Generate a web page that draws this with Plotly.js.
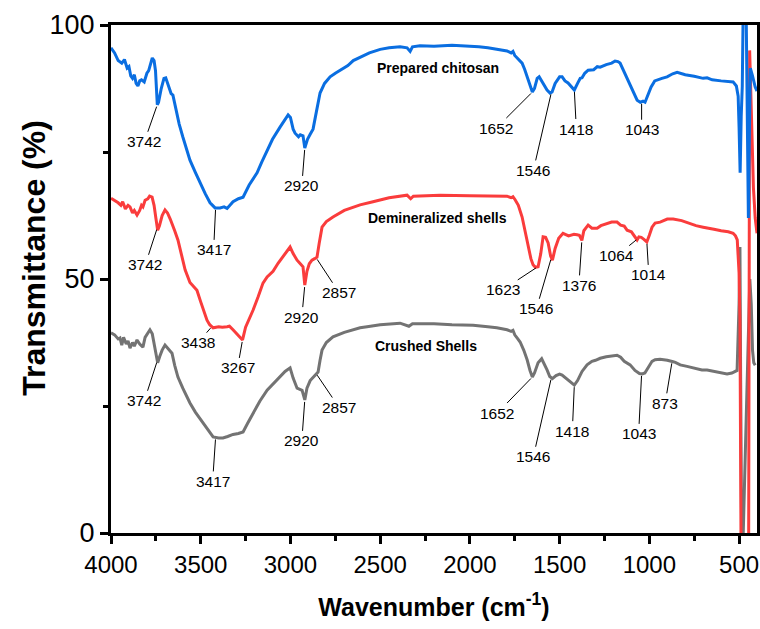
<!DOCTYPE html>
<html>
<head>
<meta charset="utf-8">
<script src="https://cdn.plot.ly/plotly-3.0.1.min.js"></script>
<style>html,body{margin:0;padding:0;background:#fff;}#chart{width:760px;height:629px;}</style>
</head>
<body>
<div id="chart"></div>
<script>
// ---------- DATA ----------
const chitosanWn = [4000,3980,3960,3940,3925,3910,3900,3890,3880,3870,3860,3850,3840,3830,3815,3800,3790,3780,3770,3760,3752,3742,3735,3720,3705,3695,3680,3665,3655,3645,3635,3620,3600,3580,3560,3530,3504,3475,3448,3420,3392,3370,3353,3335,3320,3290,3264,3230,3186,3160,3130,3100,3058,3030,3013,3000,2985,2974,2955,2945,2930,2920,2905,2890,2874,2855,2835,2810,2779,2750,2724,2680,2650,2612,2560,2500,2450,2389,2350,2333,2320,2278,2200,2100,2016,1950,1900,1850,1793,1770,1760,1750,1735,1720,1709,1695,1681,1665,1652,1640,1625,1614,1600,1586,1570,1553,1542,1525,1500,1486,1470,1453,1430,1418,1400,1385,1375,1360,1341,1310,1290,1274,1240,1210,1191,1175,1163,1150,1135,1110,1090,1068,1050,1035,1024,1010,990,970,957,930,901,870,845,800,750,700,678,650,600,560,533,515,505,500,494,488,482,478,472,462,455,448,442,437,425,410,400];
const chitosanT  = [95.5,94.5,93,92.5,93.2,91.5,91.8,90,89.5,90.2,88.5,88,89,89.2,88.8,90.5,91,92.5,93.5,93,91,84.3,84.8,87.5,89.5,89.6,88,86.5,86.2,84.5,83,80.5,78,75.5,73.4,71,68.9,66.8,65,64,64,64.2,63.9,64.5,65.2,65.8,66.1,68.5,70.9,73,75.4,77.5,79.9,81.5,82.3,81.8,79.5,78.7,78,78.4,78.2,75.8,77.5,78.5,79.5,83,86.6,88.5,89.8,90.5,91.1,92,93,93.7,94.5,95.2,95.5,95.7,95.5,94.8,95.7,95.9,95.8,96,95.9,95.7,95.5,95.2,94.9,94.5,94.8,94,93.5,93,92.5,91.3,89.8,88,86.8,87.5,89.5,89.8,89,88.2,87.2,86.6,86.8,88.5,89.8,89.8,89,88.6,87.8,87.2,88.5,89.5,89.6,90.5,91.1,91.2,91.8,91.7,92.2,92.5,92.9,92.8,92.5,91.5,90.6,88.5,87.2,85.2,84.8,85,84.8,86,87.8,89,89.2,89.5,89.8,90.4,90.7,90.2,89.9,89.5,89.6,89.2,89,88.9,88.8,88,86,80,70.9,82,88,100,108,108,90,62,80,91.5,90,87.8,87];

const demineralWn = [4000,3980,3960,3945,3935,3920,3905,3894,3880,3870,3855,3840,3830,3822,3810,3795,3785,3771,3760,3750,3740,3730,3715,3699,3685,3670,3660,3645,3627,3610,3587,3560,3521,3500,3480,3465,3450,3431,3400,3380,3353,3340,3320,3300,3280,3267,3250,3230,3208,3180,3153,3130,3097,3069,3040,3020,3002,2985,2963,2945,2930,2920,2908,2895,2880,2865,2852,2840,2824,2800,2763,2700,2612,2540,2450,2350,2330,2315,2166,2000,1900,1793,1770,1760,1748,1730,1709,1690,1675,1660,1648,1635,1620,1605,1592,1578,1564,1550,1540,1525,1505,1481,1450,1420,1403,1390,1376,1365,1350,1341,1320,1291,1270,1240,1210,1180,1160,1140,1124,1100,1085,1068,1058,1045,1030,1014,1000,985,968,940,900,867,820,780,740,700,678,640,600,560,533,520,510,500,495,488,470,455,447,441,437,428,420,410,400];
const demineralT  = [65.9,65.5,65,64.5,65.2,63.8,64.5,64.2,63,63.5,62.6,63.5,64.5,64.2,65.5,65.8,66.3,66.1,64.5,62,59.6,60.5,62.5,63.6,63,61.8,61,59.5,57.7,55,51.8,49.3,47.8,45.5,43.5,41.9,41,40.4,40.6,40.5,40.6,40.7,40,39.3,38.5,38,40.5,42,43.9,46.5,49.2,50.4,51.5,53.1,54.5,55.5,56.3,55,53.7,53,52.4,48.8,51.5,53,53.7,54,54.3,57,60.2,61.3,62.2,63.5,64.6,65.2,66,66.5,65.8,66.3,66.5,66.4,66.4,66.3,66,66.2,65.6,64.5,62.2,59,56.3,54,52.8,52.3,52.4,55,58.3,58.2,57.1,54.5,53.7,56,58,59,58.5,58.8,58.7,58.6,57.6,59.5,60.2,60.6,60,60,60.5,60.8,61.2,61.2,60.6,60.4,59.6,59.3,58.6,57.7,58.3,58.2,57.8,57.3,58.6,60.2,61,61.2,61.8,61.8,61.5,61,60.5,60.2,60,59.8,59.5,59.3,59,58.5,57.7,51.2,42,-10,-12,-12,-10,95,90,75,68,62,59];

const crushedWn = [4000,3980,3960,3950,3940,3930,3915,3905,3894,3880,3870,3855,3840,3822,3810,3795,3783,3770,3755,3740,3728,3715,3699,3685,3670,3660,3645,3627,3600,3580,3560,3530,3487,3460,3431,3400,3376,3350,3320,3290,3264,3240,3208,3170,3130,3090,3058,3030,3002,2985,2963,2945,2935,2920,2908,2890,2874,2860,2846,2835,2824,2800,2763,2700,2612,2573,2500,2389,2360,2340,2320,2200,2100,1982,1900,1850,1793,1770,1760,1750,1735,1720,1700,1681,1665,1652,1640,1620,1600,1585,1570,1555,1540,1520,1500,1486,1460,1440,1418,1400,1375,1347,1320,1300,1274,1240,1210,1180,1160,1140,1107,1080,1055,1040,1025,1000,985,968,940,900,880,867,855,828,790,750,707,678,640,600,567,540,520,511,500,495,491,488,484,440,432,425,418,410,400];
const crushedT  = [39.4,39,38.2,38.4,37,38.5,37.2,37.8,36.4,37.5,36.8,38,37.2,36.6,38.5,39.5,40,39.2,36.5,33.5,34.8,36,37,36.5,35.8,35.4,33,30.7,28.5,27,25.6,23.8,21.7,20.2,18.9,18.7,18.7,19,19.4,19.6,19.9,21.5,23.6,26,28.1,29.5,30.7,31.8,32.5,30.5,28.5,28.3,28.1,26.2,28.5,30,30.7,31.3,31.7,34,36,37.5,38.6,39.5,40.4,40.6,41,41.3,41,40.7,41.2,41.2,41,40.9,40.6,40.4,40,39.7,39.9,39,38.3,37.6,36,34.1,32,30.7,31.5,33.5,34.3,33.3,32.1,30.8,30.4,31,31.3,31.1,30.3,29.7,29.1,30,31.8,33.1,33.8,34,34.4,34.7,34.9,35,34.6,33.8,33.1,32,31.4,31.3,31.5,33,33.8,34.1,34.2,34,33.9,33.7,33.6,33.1,32.8,32.5,32.1,32.1,31.8,31.5,31.3,31.5,31.9,32,45,56.3,30,-10,-10,50,45,36,33.5,33];

const seriesNames = ["Crushed Shells","Demineralized shells","Prepared chitosan"];

const peakChitosan  = [3742,3417,2920,1652,1546,1418,1043];
const peakDemineral = [3742,3438,3267,2920,2857,1623,1546,1376,1064,1014];
const peakCrushed   = [3742,3417,2920,2857,1652,1546,1418,1043,873];

const xTickVals = [4000,3500,3000,2500,2000,1500,1000,500];
const yTickVals = [0,50,100];

// ---------- PRESENTATION ----------
const regular = 'Liberation Sans, Arial, sans-serif';
const colors = ["rgb(115,115,115)","rgb(250,60,60)","rgb(10,110,225)"];
const wnArr = [crushedWn, demineralWn, chitosanWn];
const tArr  = [crushedT, demineralT, chitosanT];
const peaks = [peakCrushed, peakDemineral, peakChitosan];
const offsets = [
  [[-13,40],[-3,44],[-3,41],[23,34],[-35,36],[-18,79],[-2,46],[-3,60],[-7,42]],
  [[-12,37],[-14,16],[-5,28],[-3,32],[23,35],[-35,23],[-15,51],[-3,45],[-21,17],[2,33]],
  [[-13,37],[-2,42],[-3,38],[-36,36],[-18,78],[2,39],[0,28]]
];
const namePos = [[2244,36.8],[2183,62],[2177,91.5]];

function interp(xs, ys, x){
  for(let i=0;i<xs.length-1;i++){
    const a=xs[i], b=xs[i+1];
    if((x<=a && x>=b) || (x>=a && x<=b)){
      const t = (x-a)/(b-a||1);
      return ys[i]+t*(ys[i+1]-ys[i]);
    }
  }
  return ys[ys.length-1];
}

const traces = [0,1,2].map(i=>({
  x: wnArr[i], y: tArr[i], type:'scatter', mode:'lines', name: seriesNames[i],
  line:{color:colors[i], width:3}, hoverinfo:'skip'
}));

const annotations = [];
peaks.forEach((list, s)=>{
  list.forEach((wn, k)=>{
    annotations.push({
      x: wn, y: interp(wnArr[s], tArr[s], wn), xref:'x', yref:'y',
      text: String(wn), showarrow:true, arrowhead:0, arrowwidth:1, arrowcolor:'#000',
      ax: offsets[s][k][0], ay: offsets[s][k][1], standoff:2,
      font:{family:regular, size:15.5, color:'#000'}
    });
  });
});
seriesNames.forEach((n,i)=>{
  annotations.push({
    x: namePos[i][0], y: namePos[i][1], xref:'x', yref:'y', text: '<b>'+n+'</b>',
    showarrow:false, font:{family:regular, size:14, color:'#000'}
  });
});
// y-axis title (placed as annotation to match the original's offset position)
annotations.push({
  xref:'paper', yref:'paper', x:-0.119, y:0.542, xanchor:'center', yanchor:'middle',
  text:'<b>Transmittance (%)</b>', textangle:-90, showarrow:false,
  font:{family:regular, size:32, color:'#000'}
});

const layout = {
  width:760, height:629,
  margin:{l:111, r:3, t:25, b:96},
  paper_bgcolor:'#fff', plot_bgcolor:'#fff',
  showlegend:false,
  font:{family:regular, color:'#000'},
  xaxis:{
    range:[4000,400], tickvals:xTickVals,
    ticks:'outside', ticklen:8, tickwidth:3, tickcolor:'#000',
    minor:{tickvals:[3750,3250,2750,2250,1750,1250,750], ticks:'outside', ticklen:5, tickwidth:3, tickcolor:'#000'},
    showline:true, linewidth:3, linecolor:'#000', mirror:true,
    showgrid:false, zeroline:false,
    tickfont:{family:regular, size:24, color:'#000'},
    title:{text:'<b>Wavenumber (cm<sup>-1</sup>)</b>', font:{family:regular, size:25, color:'#000'}, standoff:22}
  },
  yaxis:{
    range:[0,100], tickvals:yTickVals,
    ticks:'outside', ticklen:8, tickwidth:3, tickcolor:'#000',
    minor:{tickvals:[25,75], ticks:'outside', ticklen:5, tickwidth:3, tickcolor:'#000'},
    showline:true, linewidth:3, linecolor:'#000', mirror:true,
    showgrid:false, zeroline:false,
    tickfont:{family:regular, size:27, color:'#000'}
  },
  annotations: annotations
};

Plotly.newPlot('chart', traces, layout, {displayModeBar:false, staticPlot:true});
</script>
</body>
</html>
